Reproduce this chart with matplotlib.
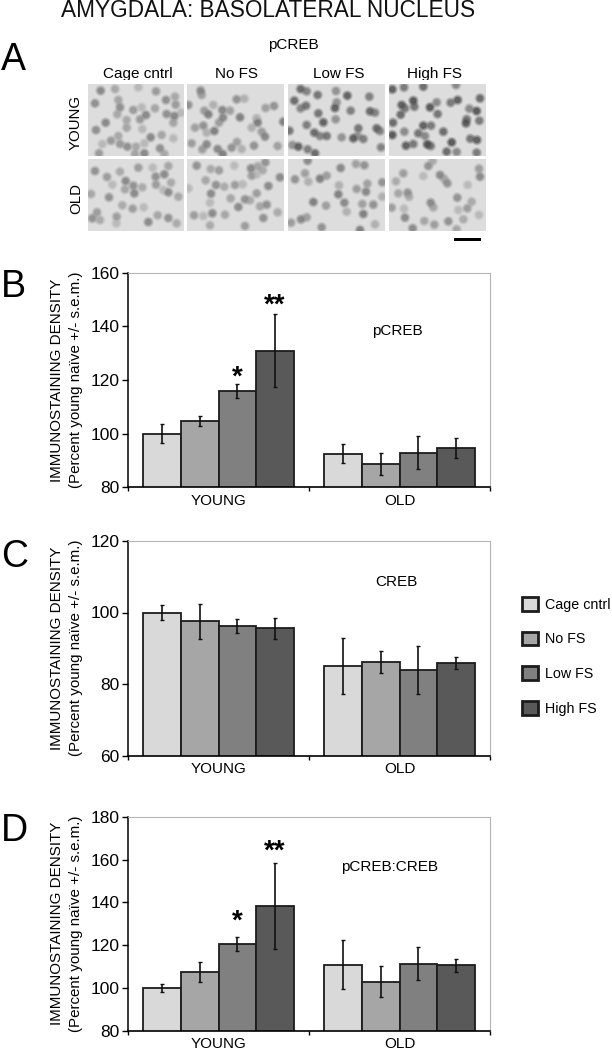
import matplotlib
matplotlib.use('Agg')
import matplotlib.pyplot as plt
from matplotlib.patches import Rectangle, Patch

plt.rcParams['font.family'] = ['Liberation Sans', 'DejaVu Sans']

groups = ['YOUNG', 'OLD']
conditions = ['Cage cntrl', 'No FS', 'Low FS', 'High FS']
bar_colors = ['#d9d9d9', '#a6a6a6', '#808080', '#595959']

b_young = [100, 104.7, 115.8, 131]
b_old = [92.5, 88.5, 92.8, 94.6]
b_young_err = [3.5, 1.9, 2.7, 13.8]
b_old_err = [3.4, 4.2, 6.2, 3.7]

c_young = [100, 97.5, 96.2, 95.6]
c_old = [85.1, 86.2, 83.9, 85.9]
c_young_err = [2.1, 4.8, 2.0, 2.9]
c_old_err = [7.9, 3.1, 6.6, 1.7]

d_young = [100, 107.5, 120.5, 138.3]
d_old = [110.9, 102.9, 111.4, 110.6]
d_young_err = [2.0, 4.8, 3.2, 20]
d_old_err = [11.6, 7.2, 7.5, 3.1]

cells_young_cage = [(30,70),(90,27),(213,34),(160,22),(47,32),(100,60),(105,82),(97,103),(145,90),(170,82),(183,105),(210,85),(243,60),(270,50),(272,74),(288,98),(268,108),(265,128),(245,102),(125,120),(165,118),(172,147),(62,128),(125,143),(33,150),(100,168),(78,182),(52,192),(197,172),(230,165),(127,200),(153,200),(105,192),(178,190),(178,220),(150,222),(225,205),(238,222),(42,220),(265,175)]
cells_young_nofs = [(347,32),(350,45),(310,75),(385,75),(370,103),(358,92),(412,90),(435,92),(455,58),(478,56),(465,112),(402,128),(414,113),(542,84),(567,78),(515,115),(518,128),(530,155),(540,170),(330,143),(355,137),(365,158),(388,153),(320,190),(365,193),(456,186),(440,203),(470,207),(413,222),(352,208),(398,207),(578,198),(507,197),(500,143),(595,125)]
cells_old_cage = [(30,273),(105,275),(160,263),(203,263),(238,283),(250,258),(212,290),(258,308),(66,291),(82,314),(122,303),(120,328),(145,317),(172,322),(213,314),(235,330),(250,337),(18,342),(72,352),(112,376),(143,386),(176,382),(148,340),(280,350),(22,415),(45,420),(95,410),(94,430),(190,426),(218,406),(250,414),(275,430),(36,397)]
cells_old_nofs = [(335,257),(377,267),(402,271),(448,257),(498,265),(518,259),(541,247),(533,271),(500,287),(515,283),(585,292),(362,301),(393,315),(418,320),(450,315),(473,313),(378,341),(437,355),(480,358),(495,361),(515,340),(375,368),(460,381),(525,379),(545,374),(578,397),(327,406),(355,408),(382,400),(420,404),(535,414),(375,436),(480,438),(310,325),(550,318)]
cells_young_low = [(47,27),(65,34),(98,45),(153,33),(187,47),(253,50),(28,62),(47,85),(63,77),(155,67),(150,84),(197,92),(255,94),(270,98),(100,100),(152,118),(115,127),(65,135),(88,158),(105,168),(125,168),(218,168),(205,175),(235,177),(275,145),(285,153),(13,152),(22,195),(40,200),(68,208),(90,220),(288,202),(220,145),(170,172)]
cells_young_high = [(322,28),(357,22),(415,20),(513,15),(385,62),(388,80),(350,75),(360,85),(347,104),(455,67),(435,82),(458,102),(518,60),(497,68),(585,55),(553,86),(575,93),(545,118),(543,130),(583,122),(324,128),(358,155),(322,165),(400,160),(415,137),(438,137),(475,155),(420,168),(427,193),(437,198),(363,197),(385,192),(485,215),(515,216),(500,187),(556,176),(576,180),(575,218)]
cells_old_low = [(68,242),(60,280),(30,298),(70,305),(105,296),(125,287),(167,264),(213,252),(238,256),(162,316),(160,343),(215,327),(243,335),(247,311),(292,307),(292,350),(85,366),(123,377),(178,368),(232,372),(265,374),(185,395),(235,402),(18,428),(48,418),(65,412),(110,442),(270,433),(225,450)]
cells_old_high = [(430,258),(443,243),(355,280),(415,288),(465,285),(478,297),(487,310),(333,304),(582,266),(548,315),(585,290),(340,340),(368,338),(372,350),(320,383),(357,386),(437,368),(445,382),(517,353),(560,365),(547,385),(520,390),(360,413),(418,423),(490,424),(535,418),(448,434),(582,405),(383,445),(515,448)]
shade_cycle = [0.0, 0.12, 0.05, 0.2, -0.04, 0.1]

fig = plt.figure(figsize=(6.12, 10.5), dpi=100)
W, H = 612, 1050

# full-figure overlay in pixel units
ov = fig.add_axes([0, 0, 1, 1])
ov.set_xlim(0, W)
ov.set_ylim(H, 0)
ov.axis('off')

ov.text(61, 17, 'AMYGDALA: BASOLATERAL NUCLEUS', fontsize=16.25, ha='left', va='baseline', color='#111111')
for letter, lx, ly in [('A', 1, 70), ('B', 1, 297), ('C', 1, 567), ('D', 1, 841)]:
    ov.text(lx, ly, letter, fontsize=27, ha='left', va='baseline', color='black')
ov.text(293, 49, 'pCREB', fontsize=11, ha='center', va='baseline')
for name, cx in zip(conditions, [138, 236.5, 339, 434.5]):
    ov.text(cx, 78, name, fontsize=11, ha='center', va='baseline', zorder=1)
ov.add_patch(Rectangle((80, 79.5), 410, 5, facecolor='white', edgecolor='none', zorder=1.5))
ov.text(76, 122, 'YOUNG', fontsize=10.8, rotation=90, ha='center', va='center')
ov.text(76, 198, 'OLD', fontsize=10.8, rotation=90, ha='center', va='center')
ov.add_patch(Rectangle((454, 238), 27, 3, color='black', lw=0))

panels = [
    (87.5, 84, 96, 72, cells_young_cage, 85, 80, 0.48),
    (187, 84, 97, 72, cells_young_nofs, 85, 80, 0.44),
    (288, 84, 97, 72, cells_young_low, 285, 80, 0.29),
    (389, 84, 97, 72, cells_young_high, 285, 80, 0.24),
    (87.5, 159, 96, 72, cells_old_cage, 85, 80, 0.49),
    (187, 159, 97, 72, cells_old_nofs, 85, 80, 0.49),
    (288, 159, 97, 72, cells_old_low, 285, 80, 0.44),
    (389, 159, 97, 72, cells_old_high, 285, 80, 0.49),
]
for px, py, pw, ph, cells, ox, oy, base in panels:
    rect = Rectangle((px, py), pw, ph, facecolor='#dddddd', edgecolor='none', zorder=2)
    ov.add_patch(rect)
    xs = [ox + c[0] / 3 for c in cells]
    ys = [oy + c[1] / 3 for c in cells]
    shades = [min(0.85, base + shade_cycle[i % len(shade_cycle)]) for i in range(len(cells))]
    for size, alpha, zo in [(62, 0.18, 3), (40, 0.32, 4), (20, 0.55, 5)]:
        sc = ov.scatter(xs, ys, s=size, c=[(v, v, v) for v in shades], alpha=alpha, linewidths=0, zorder=zo)
        sc.set_clip_path(rect)


def draw_panel(top, bottom, ymin, ymax, ticks, young, old, young_err, old_err, tag, tag_xy, stars):
    left, right = 128, 490
    ax = fig.add_axes([left / W, 1 - bottom / H, (right - left) / W, (bottom - top) / H])
    ax.patch.set_alpha(0)
    n = len(conditions)
    width = 0.2085
    for k in range(n):
        xs = [g + (k - (n - 1) / 2) * width for g in range(len(groups))]
        vals = [young[k], old[k]]
        errs = [young_err[k], old_err[k]]
        ax.bar(xs, vals, width=width, bottom=0, color=bar_colors[k], edgecolor='#1c1c1c', linewidth=1.3,
               yerr=errs, error_kw=dict(ecolor='#111111', elinewidth=1.2, capsize=1.2, capthick=1.0))
    ax.set_xlim(-0.5, 1.5)
    ax.set_ylim(ymin, ymax)
    ax.set_yticks(ticks)
    ax.tick_params(axis='y', labelsize=12.5, length=4, width=1, pad=2)
    ax.set_xticks([-0.5, 0.5, 1.5], minor=False)
    ax.set_xticklabels([])
    ax.tick_params(axis='x', length=3, width=1, direction='out')
    ax.text(0, -0.064, groups[0], transform=ax.get_xaxis_transform(), fontsize=11, ha='center', va='center')
    ax.text(1, -0.064, groups[1], transform=ax.get_xaxis_transform(), fontsize=11, ha='center', va='center')
    ax.spines['top'].set_color('#b5b5b5')
    ax.spines['right'].set_color('#b5b5b5')
    ax.spines['left'].set_linewidth(1.1)
    ax.spines['bottom'].set_linewidth(1.2)
    ax.set_ylabel('IMMUNOSTAINING DENSITY\n(Percent young na\u00efve +/- s.e.m.)', fontsize=10.9, linespacing=1.42)
    ax.yaxis.set_label_coords(-0.124, 0.5)
    ax.text(tag_xy[0], tag_xy[1], tag, fontsize=11, ha='center', va='center')
    for sx, sy, mark in stars:
        ax.text(sx, sy, mark, fontsize=20, fontweight='bold', ha='center', va='center')
    return ax


s3 = 0.5 * 0.2085
s4 = 1.5 * 0.2085
draw_panel(273, 487, 80, 160, [80, 100, 120, 140, 160], b_young, b_old, b_young_err, b_old_err,
           'pCREB', (0.99, 138.3), [(s3, 121, '*'), (s4, 147.8, '**')])
draw_panel(541, 755.5, 60, 120, [60, 80, 100, 120], c_young, c_old, c_young_err, c_old_err,
           'CREB', (0.985, 108.5), [])
draw_panel(816.7, 1030.7, 80, 180, [80, 100, 120, 140, 160, 180], d_young, d_old, d_young_err, d_old_err,
           'pCREB:CREB', (0.945, 156.6), [(s3, 131, '*'), (s4, 163.5, '**')])

handles = [Patch(facecolor=c, edgecolor='#1c1c1c', linewidth=2.0) for c in bar_colors]
fig.legend(handles, conditions, loc='upper left', bbox_to_anchor=(519 / W, 1 - 594 / H), frameon=False,
           fontsize=10.3, handlelength=1.1, handleheight=1.1, labelspacing=1.4, handletextpad=0.5,
           borderpad=0.2, borderaxespad=0)

fig.savefig('out.png', dpi=100)
